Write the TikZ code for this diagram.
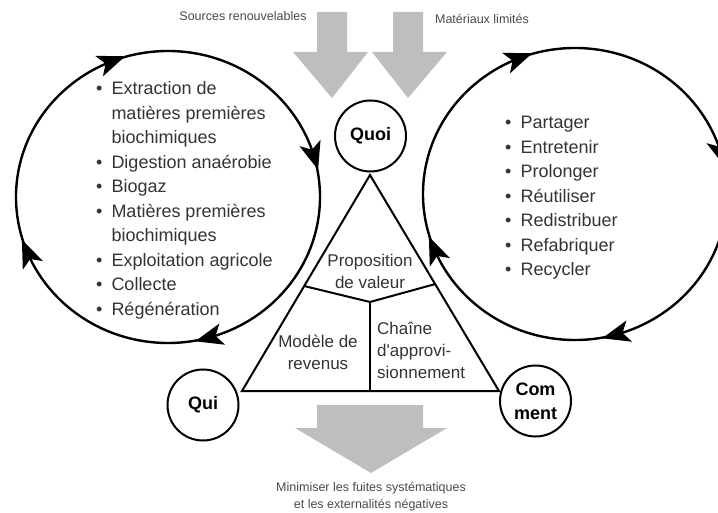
\documentclass[tikz,border=0pt]{standalone}
\usepackage{fontspec}
\setmainfont{Liberation Sans}
\usetikzlibrary{positioning,calc,arrows.meta,decorations.markings}
\definecolor{flowgray}{HTML}{BEBEBE}
\definecolor{inkgray}{HTML}{333333}
\definecolor{notegray}{HTML}{4A4A4A}
\newcommand{\looptip}{\fill (14pt,0pt) -- (-14pt,11pt) -- (-7pt,0pt) -- (-14pt,-11pt) -- cycle;}

\begin{document}
\begin{tikzpicture}[x=1pt,y=-1pt,
  loopline/.style={line width=2.4pt,postaction={decorate},
    decoration={markings,
      mark=at position 0.206 with {\looptip},
      mark=at position 0.439 with {\looptip},
      mark=at position 0.689 with {\looptip},
      mark=at position 0.956 with {\looptip}}},
  hub/.style={draw,circle,line width=2pt,minimum size=71pt,inner sep=0pt,align=center,
    font=\fontsize{18}{24}\selectfont\bfseries},
  bizline/.style={line width=2pt},
  listbox/.style={inner sep=0pt,anchor=north west,text=inkgray,
    font=\fontsize{18}{24.5}\selectfont},
  cell/.style={inner sep=0pt,align=center,text=inkgray,font=\fontsize{17}{22}\selectfont},
  note/.style={inner sep=0pt,align=center,text=notegray,font=\fontsize{12.5}{17}\selectfont}]
  \useasboundingbox (0,0) rectangle (718,513);
  % inflows
  \fill[flowgray] (317,12) -- (347,12) -- (347,52) -- (368,52) -- (332,98)
    -- (293,52) -- (317,52) -- cycle;
  \fill[flowgray] (393,12) -- (423,12) -- (423,52) -- (447,52) -- (408,98)
    -- (372,52) -- (393,52) -- cycle;
  \node[note] (srcren) at (243,16) {Sources renouvelables};
  \node[note] (matlim) at (482,19) {Matériaux limités};
  % outflow
  \fill[flowgray] (317,405) -- (423,405) -- (423,428) -- (447,428) -- (371,473)
    -- (295,428) -- (317,428) -- cycle;
  \node[note] (minfuites) at (371,496.5) {Minimiser les fuites systématiques\\et les externalités négatives};
  % biological cycle
  \draw[loopline] (168,197) ++(152,0) arc[start angle=0,end angle=360,x radius=152,y radius=146];
  \node[listbox] (biolist) at (96,77.5) {%
    \begin{tabular}{@{}l@{\hspace{9pt}}l@{}}
      \textbullet & Extraction de\\
                  & matières premières\\
                  & biochimiques\\
      \textbullet & Digestion anaérobie\\
      \textbullet & Biogaz\\
      \textbullet & Matières premières\\
                  & biochimiques\\
      \textbullet & Exploitation agricole\\
      \textbullet & Collecte\\
      \textbullet & Régénération
    \end{tabular}};
  % technical cycle
  \draw[loopline] (575,194) ++(152,0) arc[start angle=0,end angle=360,x radius=152,y radius=146];
  \node[listbox] (techlist) at (505,111.5) {%
    \begin{tabular}{@{}l@{\hspace{9pt}}l@{}}
      \textbullet & Partager\\
      \textbullet & Entretenir\\
      \textbullet & Prolonger\\
      \textbullet & Réutiliser\\
      \textbullet & Redistribuer\\
      \textbullet & Refabriquer\\
      \textbullet & Recycler
    \end{tabular}};
  % business model triangle
  \node[hub] (quoi) at (370.5,136) {Quoi};
  \node[hub] (qui) at (203,405) {Qui};
  \node[hub] (comment) at (535.5,401) {Com\\ment};
  \coordinate (apex) at (370,175);
  \coordinate (baseL) at (242,391);
  \coordinate (baseR) at (499,391);
  \coordinate (midL) at ($(apex)!0.514!(baseL)$);
  \coordinate (midR) at ($(apex)!0.505!(baseR)$);
  \coordinate (hub0) at (370,302);
  \coordinate (foot) at (370,391);
  \draw[bizline,line join=miter] (apex) -- (baseL) -- (baseR) -- cycle;
  \draw[bizline] (midL) -- (hub0) -- (midR);
  \draw[bizline] (hub0) -- (foot);
  \node[cell] (propval) at (370,271) {Proposition\\de valeur};
  \node[cell] (revmod) at (318,352.5) {Modèle de\\revenus};
  \node[cell,align=left,anchor=west] (supply) at (377,350.5) {Chaîne\\d\textquotesingle approvi-\\sionnement};
\end{tikzpicture}
\end{document}
